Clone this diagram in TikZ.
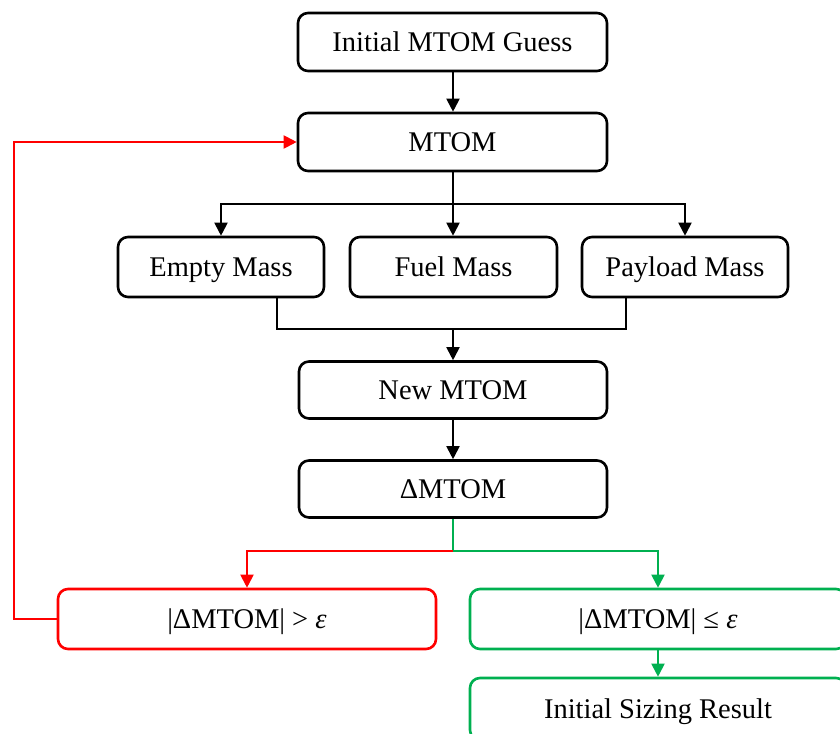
\documentclass[tikz,border=0pt]{standalone}
\usepackage{fontspec}
\setmainfont{Liberation Serif}
\usetikzlibrary{arrows.meta}
\definecolor{okgreen}{RGB}{0,176,80}
\begin{document}
\begin{tikzpicture}[x=1pt,y=-1pt,
  box/.style={draw, line width=2.6pt, rounded corners=10pt, inner sep=0pt,
    text height=22pt, text depth=3pt, font=\fontsize{28.5}{31}\selectfont},
  redbox/.style={box, draw=red},
  greenbox/.style={box, draw=okgreen},
  conn/.style={line width=1.9pt, -{Triangle[length=13pt,width=13pt]}},
  line/.style={line width=1.9pt}]
\useasboundingbox (0,0) rectangle (840,733);
\clip (0,0) rectangle (840,733);
\node[box, minimum width=309pt, minimum height=58pt] (guess) at (452.5,42) {Initial MTOM Guess};
\node[box, minimum width=309pt, minimum height=58pt] (mtom) at (452.5,142) {MTOM};
\node[box, minimum width=206pt, minimum height=60pt] (empty) at (221,267) {Empty Mass};
\node[box, minimum width=207pt, minimum height=60pt] (fuel) at (453.5,267) {Fuel Mass};
\node[box, minimum width=206pt, minimum height=60pt] (payload) at (685,267) {Payload Mass};
\node[box, minimum width=308pt, minimum height=57pt] (new) at (453,390) {New MTOM};
\node[box, minimum width=308pt, minimum height=57pt] (delta) at (453,489) {ΔMTOM};
\node[redbox, minimum width=378pt, minimum height=60pt] (gt) at (247,619) {|ΔMTOM| > \textit{ε}};
\node[greenbox, minimum width=376pt, minimum height=60pt] (le) at (658,619) {|ΔMTOM| ≤ \textit{ε}};
\node[greenbox, minimum width=376pt, minimum height=62pt] (res) at (658,709) {Initial Sizing Result};
\coordinate (split) at (453,204);
\coordinate (join) at (453,329);
\coordinate (fork) at (453,551);
\coordinate (loop) at (14,619);
% top chain
\draw[conn] (guess.south -| 453,0) -- (mtom.north -| 453,0);
\draw[conn] (mtom.south -| split) -- (fuel.north -| split);
\draw[conn] (split) -| (empty.north);
\draw[conn] (split) -| (payload.north);
% join
\draw[line] (empty.south -| 277,0) |- (join) -| (payload.south -| 626,0);
\draw[conn] (join) -- (new.north -| join);
\draw[conn] (new.south -| join) -- (delta.north -| join);
% decision
\draw[line, okgreen] (delta.south -| fork) -- (fork);
\draw[conn, red] (fork) -| (gt.north);
\draw[conn, okgreen] (fork) -| (le.north);
\draw[conn, okgreen] (le.south) -- (res.north);
% loop back
\draw[conn, red] (gt.west) -- (loop) |- (mtom.west);
\end{tikzpicture}
\end{document}
